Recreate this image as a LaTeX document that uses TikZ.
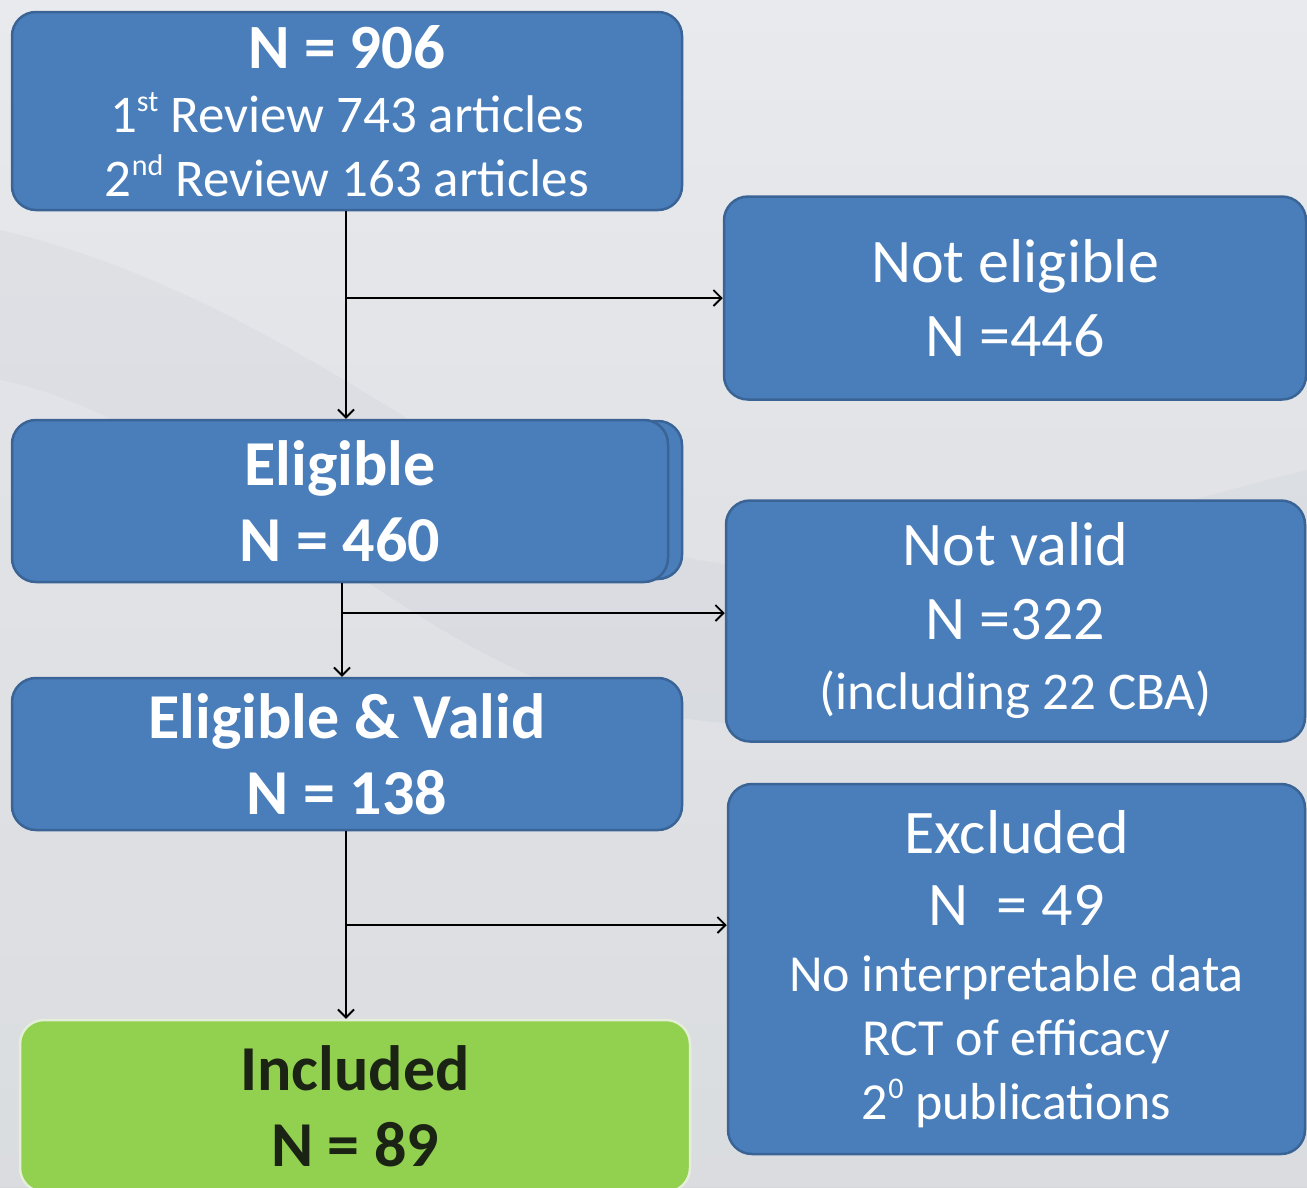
\documentclass[tikz,border=0pt]{standalone}
\usepackage{fontspec}
\setmainfont{Carlito}
\usetikzlibrary{arrows.meta,calc}
\definecolor{boxblue}{HTML}{4A7EBB}
\definecolor{boxedge}{HTML}{3A6496}
\definecolor{incgreen}{HTML}{92D050}
\definecolor{incedge}{HTML}{E4EED8}
\definecolor{inctext}{HTML}{1B2414}
\definecolor{bgtop}{HTML}{E8EAEE}
\definecolor{bgbot}{HTML}{D6D8DC}
\definecolor{mist}{HTML}{C9CDD3}
\newcommand\mysup[1]{\raisebox{0.4em}{\fontsize{30}{30}\selectfont #1}}
\begin{document}
\begin{tikzpicture}[x=1pt,y=-1pt,
  bluebox/.style={draw=boxedge, line width=2.5pt, fill=boxblue, rounded corners=24pt,
    text=white, align=center, inner sep=0pt},
  greenbox/.style={draw=incedge, line width=2.5pt, fill=incgreen, rounded corners=24pt,
    text=inctext, align=center, inner sep=0pt},
  arr/.style={draw=black, line width=2pt, -{Straight Barb[length=8pt,width=16pt,line width=1.8pt]}},
  bigfont/.style={font=\fontsize{62}{74}\selectfont},
  boldfont/.style={font=\fontsize{64}{76}\selectfont\bfseries}]
\fill[top color=bgtop,bottom color=bgbot] (0,0) rectangle (1307,1187);
\useasboundingbox (0,0) rectangle (1307,1187);
% faint mountain silhouettes
\fill[mist,opacity=0.22] (0,230) .. controls (300,300) and (500,520) .. (700,560)
  .. controls (900,600) and (1100,520) .. (1307,470) -- (1307,1187) -- (0,1187) -- cycle;
\fill[white,opacity=0.18] (0,380) .. controls (200,420) and (400,650) .. (600,700)
  .. controls (800,760) and (1000,700) .. (1307,650) -- (1307,1187) -- (0,1187) -- cycle;

% boxes
\node[bluebox, minimum width=670pt, minimum height=198pt, font=\fontsize{53}{64}\selectfont] (b1) at (347,111)
  {{\bfseries\fontsize{63}{64}\selectfont N = 906}\\
   1\mysup{st} Review 743 articles\\
   2\mysup{nd} Review 163 articles};
\node[bluebox, minimum width=582pt, minimum height=203pt, bigfont] (noteli) at (1015,298)
  {Not eligible\\N =446};
\node[bluebox, minimum width=656pt, minimum height=158pt] (eligback) at (354,500) {};
\node[bluebox, minimum width=656pt, minimum height=162pt, boldfont] (elig) at (340,501)
  {Eligible\\N = 460};
\node[bluebox, minimum width=579pt, minimum height=241pt, bigfont] (notval) at (1015.5,621)
  {Not valid\\N =322\\[-4pt]{\fontsize{53}{60}\selectfont (including 22 CBA)}};
\node[bluebox, minimum width=670pt, minimum height=152pt, boldfont] (ev) at (347,754)
  {Eligible \& Valid\\N = 138};
\node[bluebox, minimum width=577pt, minimum height=370pt, font=\fontsize{52}{64}\selectfont] (excl) at (1016.5,969)
  {{\fontsize{62}{64}\selectfont Excluded}\\[8pt]
   {\fontsize{62}{64}\selectfont N\ \ = 49}\\[2pt]
   No interpretable data\\
   RCT of efficacy\\
   2\mysup{0} publications};
\node[greenbox, minimum width=670pt, minimum height=172pt, boldfont] (incl) at (355,1106)
  {Included\\N = 89};

% junction points
\coordinate (j1) at (346,298);
\coordinate (j2) at (342,613);
\coordinate (j3) at (346,925);

% connectors
\draw[arr] (b1.south -| j1) -- (elig.north -| j1);
\draw[arr] (j1) -- (noteli.west |- j1);
\draw[arr] (elig.south -| j2) -- (ev.north -| j2);
\draw[arr] (j2) -- (notval.west |- j2);
\draw[arr] (ev.south -| j3) -- (incl.north -| j3);
\draw[arr] (j3) -- (excl.west |- j3);
\end{tikzpicture}
\end{document}
